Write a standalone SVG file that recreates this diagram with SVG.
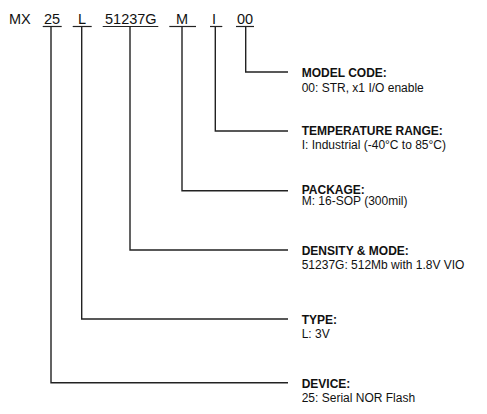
<svg xmlns="http://www.w3.org/2000/svg" width="487" height="414" viewBox="0 0 487 414">
<style>
.top{font-family:"Liberation Sans",Arial,sans-serif;font-size:14.5px;fill:#111}
.h{font-family:"Liberation Sans",Arial,sans-serif;font-size:12px;font-weight:bold;fill:#111}
.d{font-family:"Liberation Sans",Arial,sans-serif;font-size:12px;fill:#111}
.ul{stroke:#222;stroke-width:1.2}
.c{fill:none;stroke:#222;stroke-width:1.4}
</style>
<rect width="487" height="414" fill="#fff"/>
<g id="part-number">
<text class="top" x="9" y="23.5">MX</text>
<text class="top" x="44" y="23.5">25</text>
<text class="top" x="78" y="23.5">L</text>
<text class="top" x="105" y="23.5">51237G</text>
<text class="top" x="176" y="23.5">M</text>
<text class="top" x="212" y="23.5">I</text>
<text class="top" x="237" y="23.5">00</text>
<line class="ul" x1="42.7" y1="26.5" x2="61.7" y2="26.5"/>
<line class="ul" x1="72.7" y1="26.5" x2="91.7" y2="26.5"/>
<line class="ul" x1="102.7" y1="26.5" x2="158.3" y2="26.5"/>
<line class="ul" x1="169.3" y1="26.5" x2="196" y2="26.5"/>
<line class="ul" x1="210" y1="26.5" x2="222.3" y2="26.5"/>
<line class="ul" x1="236" y1="26.5" x2="254" y2="26.5"/>
</g>
<g id="connectors">
<polyline class="c" points="245.7,26.5 245.7,72 288,72"/>
<polyline class="c" points="215.3,26.5 215.3,131 288,131"/>
<polyline class="c" points="182,26.5 182,190.7 288,190.7"/>
<polyline class="c" points="130,26.5 130,250 288,250"/>
<polyline class="c" points="81.7,26.5 81.7,319 288,319"/>
<polyline class="c" points="51,26.5 51,382.7 288,382.7"/>
</g>
<g id="model-code">
<text class="h" x="301.7" y="76.7">MODEL CODE:</text>
<text class="d" x="301.7" y="91.7">00: STR, x1 I/O enable</text>
</g>
<g id="temperature-range">
<text class="h" x="301.7" y="135">TEMPERATURE RANGE:</text>
<text class="d" x="301.7" y="148.5">I: Industrial (-40°C to 85°C)</text>
</g>
<g id="package">
<text class="h" x="301.7" y="193.5">PACKAGE:</text>
<text class="d" x="301.7" y="204.5">M: 16-SOP (300mil)</text>
</g>
<g id="density-mode">
<text class="h" x="301.7" y="255">DENSITY &amp; MODE:</text>
<text class="d" x="301.7" y="269.3">51237G: 512Mb with 1.8V VIO</text>
</g>
<g id="type">
<text class="h" x="301.7" y="324">TYPE:</text>
<text class="d" x="301.7" y="338.3">L: 3V</text>
</g>
<g id="device">
<text class="h" x="301.7" y="388.3">DEVICE:</text>
<text class="d" x="301.7" y="402.3">25: Serial NOR Flash</text>
</g>
</svg>
